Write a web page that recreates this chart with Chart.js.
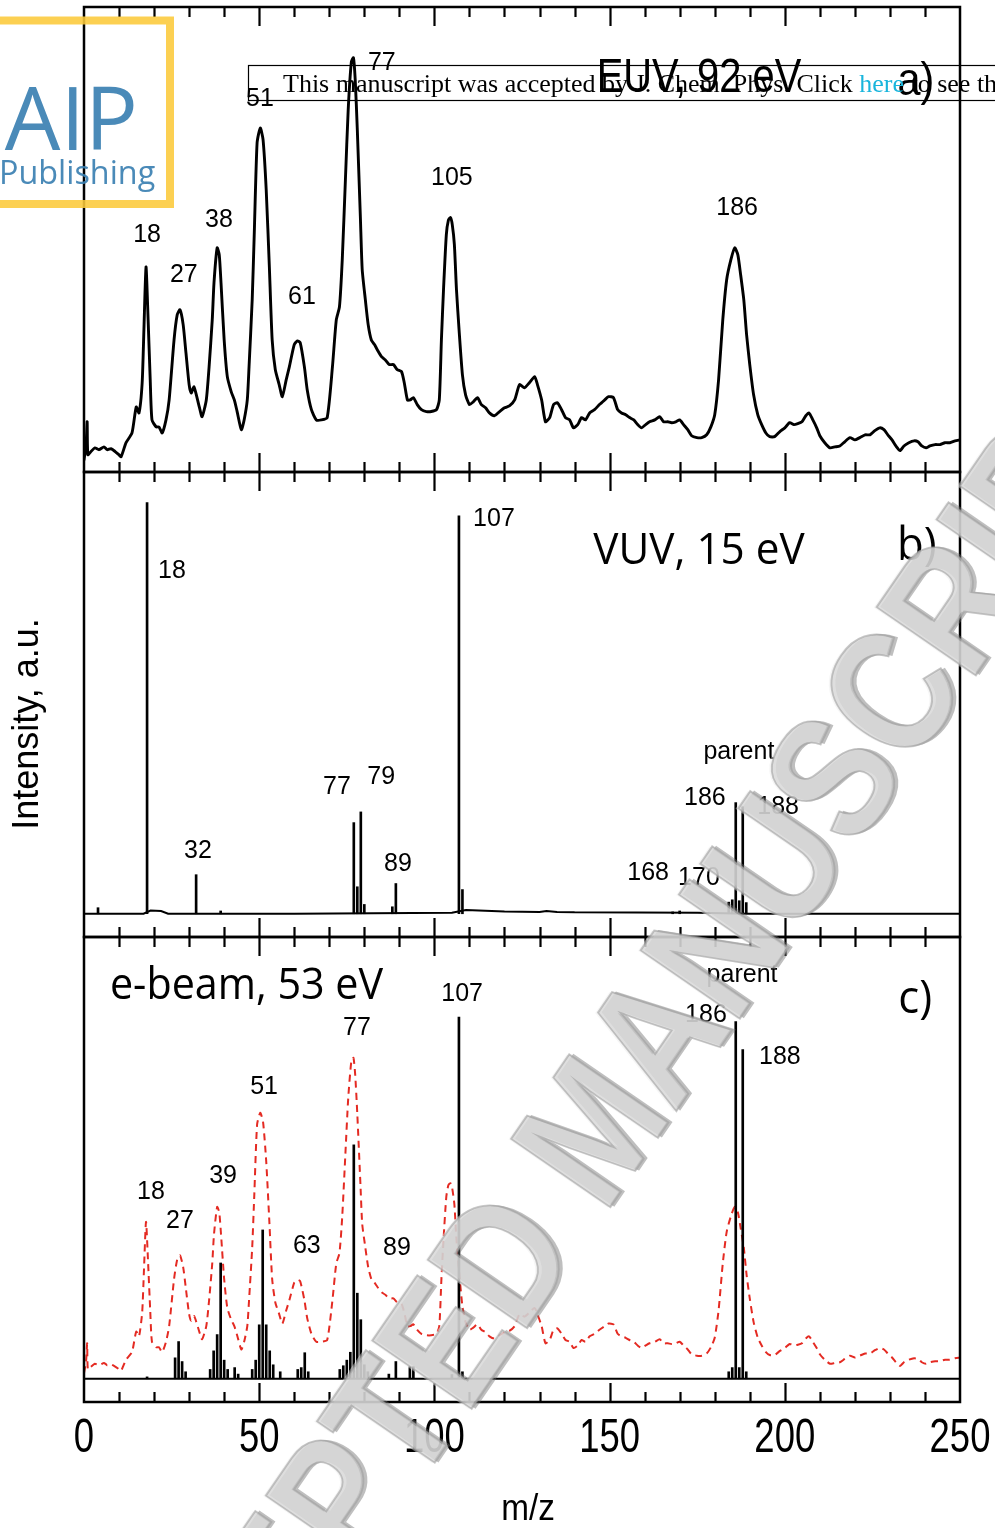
<!DOCTYPE html>
<html><head><meta charset="utf-8">
<script src="https://cdn.jsdelivr.net/npm/chart.js@4.4.1/dist/chart.umd.min.js"></script>
<style>
html,body{margin:0;padding:0;background:#fff;}
#wrap{position:relative;width:995px;height:1528px;overflow:hidden;background:#fff;}
#wrap canvas{position:absolute;left:0;top:0;}
</style></head><body>
<div id="wrap">
<canvas id="ca" width="995" height="1528"></canvas>
<canvas id="cb" width="995" height="1528"></canvas>
<canvas id="cc" width="995" height="1528"></canvas>
</div>
<script>
// ---------------- DATA ----------------
// a) EUV, 92 eV : m/z and intensity (a.u.)
const euvMz = [0,0.6,0.9,1.1,2.0,3.1,4.3,5.7,6.6,7.7,8.9,10.0,10.6,12.0,13.7,14.9,15.7,16.6,17.1,17.7,18.3,18.9,19.4,20.6,21.4,22.3,23.4,24.3,25.7,26.6,27.4,28.3,29.1,30.0,30.6,31.4,32.9,33.7,34.9,35.7,36.6,37.1,38.0,38.6,39.1,40.0,40.9,42.0,42.9,43.7,44.9,45.7,46.6,47.1,48.0,48.6,49.4,50.3,51.1,52.0,52.9,53.7,54.6,55.7,56.6,57.7,58.6,60.0,60.9,61.7,62.9,63.7,64.9,66.3,67.7,69.4,70.9,72.0,72.9,73.7,74.6,75.4,76.3,76.9,77.4,78.0,78.9,79.4,80.3,81.1,82.0,82.9,83.7,84.9,86.0,87.1,88.3,89.4,90.6,91.4,92.3,93.1,94.0,95.1,96.3,97.7,99.1,100.6,101.4,102.0,102.6,103.4,104.0,104.6,105.1,105.7,106.3,107.1,108.0,108.9,110.0,111.1,112.3,113.4,114.6,115.7,117.1,118.6,120.0,121.4,122.9,124.3,125.7,127.1,128.6,129.4,130.6,131.7,132.9,134.0,135.1,136.3,137.4,138.6,139.7,140.9,142.0,143.1,144.3,145.7,147.1,148.6,149.7,151.1,152.3,153.4,154.6,155.7,156.9,158.0,159.1,160.3,161.4,162.9,164.3,165.4,166.6,167.7,168.9,170.0,171.1,172.3,173.4,174.9,176.3,177.7,178.9,180.0,181.1,182.3,183.4,184.6,185.7,186.6,187.4,188.3,189.1,190.0,191.1,192.3,193.4,194.6,195.7,197.1,198.6,200.0,201.4,202.6,203.7,204.9,206.0,206.9,208.0,209.1,210.0,211.4,212.9,214.3,215.7,217.1,218.6,220.0,221.4,222.9,224.3,225.7,227.1,228.3,229.4,230.6,231.7,232.9,234.0,235.4,236.9,238.0,239.1,240.3,241.4,242.9,244.3,245.7,247.1,248.6,250.0];
const euvI = [-2.4,0.9,5.8,-1.3,-0.6,0.2,-0.2,0.4,-0.2,0,-0.6,-1.3,-1.7,1.3,3.4,9.0,7.7,14.2,25.6,39.1,27.7,14.8,6.2,4.7,4.7,3.4,6.2,10.5,23.4,28.8,29.9,26.7,20.6,13.8,12.0,13.3,9.0,6.9,10.5,17.6,27.7,35.7,43.2,41.7,35.7,23.4,15.5,12.3,10.5,8.0,4.1,6.2,10.5,17.6,32.0,46.5,65.8,69.0,66.5,55.7,39.1,23.4,17.0,13.8,11.2,14.8,17.6,22.4,23.2,22.8,17.6,12.7,8.4,6.2,6.2,6.7,17.6,27.7,30.5,40.6,57.8,72.9,83.2,84.1,79.4,68.6,49.2,38.5,32.0,26.7,23.4,22.4,21.3,19.8,19.1,18.1,18.1,17.0,16.6,14.2,10.5,10.5,11.0,9.5,8.4,8.0,8.0,8.4,10.5,23.4,34.2,46.0,49.2,49.7,48.2,43.9,34.2,24.9,15.9,11.6,9.5,10.1,11.0,9.5,8.8,7.7,7.1,8.0,8.8,9.2,10.5,13.8,13.1,14.2,15.5,13.8,10.5,5.8,6.7,9.5,9.9,8.4,6.7,6.2,4.5,5.2,6.7,6.2,7.7,8.4,9.5,10.5,11.2,11.0,8.4,7.7,7.3,6.7,6.2,5.2,4.5,5.2,5.8,6.2,6.9,5.8,5.8,5.6,5.8,6.2,5.2,4.1,2.8,2.4,2.4,3.0,4.7,7.3,14.8,27.7,36.3,40.6,43.2,41.7,37.4,32.0,24.5,18.1,11.6,7.3,5.2,3.4,2.6,2.6,3.7,4.5,5.6,5.2,5.4,5.8,7.1,7.7,6.2,4.5,2.8,1.3,0.2,0.4,0.6,1.5,2.4,1.9,2.4,3.0,3.0,3.9,4.5,4.1,3.0,1.9,0.6,-0.4,0.6,1.3,1.7,1.5,0.6,0.2,0.6,0.9,0.9,1.3,1.3,1.7,1.9];

// b) VUV, 15 eV : stick spectrum + baseline
const vuvMz = [4,18,32,39,77,78,79,80,88,89,107,108,168,170,184,185,186,187,188,189];
const vuvI  = [1.3,88.4,8.4,0.6,19.6,5.8,21.9,2.0,1.5,6.5,85.6,5.2,0.4,0.6,2.5,3.0,23.9,2.8,23.0,2.4];
const vuvBaseMz = [0,17,19,22,24,60,105,109,120,130,132,135,140,175,190,250];
const vuvBaseI  = [0,0,0.7,0.6,0,0,0.2,0.8,0.5,0.4,0.6,0.4,0.3,0.2,0,0];

// c) e-beam, 53 eV : stick spectrum + baseline
const ebMz = [18,26,27,28,29,36,37,38,39,40,41,43,44,48,49,50,51,52,53,54,56,61,62,63,64,73,74,75,76,77,78,79,80,81,87,89,93,94,105,107,108,184,185,186,187,188,189];
const ebI  = [0.4,4.5,8.0,3.7,1.5,2.0,6.0,9.5,24.9,4.0,2.0,2.4,1.0,2.0,4.0,11.6,32.0,11.6,6.0,3.0,1.5,2.0,2.4,5.6,1.5,2.0,2.8,4.0,5.7,50.3,18.4,12.7,3.0,1.5,1.0,3.7,2.6,2.6,0.9,77.8,1.5,1.5,2.4,76.8,2.4,70.8,1.5];
const ebBaseMz = [0,250];
const ebBaseI  = [0,0];

const xTickLabels = [0,50,100,150,200,250];
const minorTicks = [10,20,30,40,50,60,70,80,90,100,110,120,130,140,150,160,170,180,190,200,210,220,230,240];

// ---------------- HELPERS ----------------
const SANS = '"Liberation Sans", Arial, Helvetica, sans-serif';
const CAL = '"Open Sans", "Liberation Sans", sans-serif';
const pts = (xs, ys) => xs.map((x, i) => ({x: x, y: ys[i]}));

function txt(ctx, s, x, y, font, o) {
  o = o || {};
  ctx.save();
  ctx.font = font;
  ctx.fillStyle = o.color || '#000';
  ctx.textAlign = o.align || 'center';
  ctx.textBaseline = o.baseline || 'middle';
  ctx.translate(x, y);
  if (o.rot) ctx.rotate(o.rot);
  if (o.sx) ctx.scale(o.sx, 1);
  ctx.fillText(s, 0, 0);
  ctx.restore();
}

function framePlugin() {
  return {
    id: 'frame',
    afterDraw(chart) {
      const ctx = chart.ctx, a = chart.chartArea, xs = chart.scales.x;
      ctx.save();
      ctx.strokeStyle = '#000';
      ctx.lineWidth = 2.5;
      ctx.strokeRect(a.left, a.top, a.right - a.left, a.bottom - a.top);
      ctx.lineWidth = 2.2;
      minorTicks.forEach(v => {
        const px = Math.round(xs.getPixelForValue(v)) + 0.5;
        const len = (v % 50 === 0) ? 19 : 10;
        ctx.beginPath();
        ctx.moveTo(px, a.top); ctx.lineTo(px, a.top + len);
        ctx.moveTo(px, a.bottom); ctx.lineTo(px, a.bottom - len);
        ctx.stroke();
      });
      ctx.restore();
    }
  };
}

function notesPlugin(notes) {
  return {
    id: 'notes',
    afterDatasetsDraw(chart) {
      const ctx = chart.ctx;
      notes.forEach(n => {
        const ys = chart.scales[n.axis || 'y'];
        txt(ctx, n.t, chart.scales.x.getPixelForValue(n.x), ys.getPixelForValue(n.y),
            n.font || ('25px ' + SANS), {align: n.align, sx: n.sx});
      });
    }
  };
}

function mkChart(id, top, bottom, datasets, extraScales, notes, extraPlugins) {
  const scales = Object.assign({
    x: {type: 'linear', min: 0, max: 250, display: false, offset: false},
    y: {type: 'linear', min: -5, max: 95, display: false}
  }, extraScales || {});
  return new Chart(document.getElementById(id), {
    type: 'line',
    data: {datasets: datasets},
    options: {
      responsive: false, animation: false, devicePixelRatio: 1, events: [],
      layout: {padding: {left: 84, right: 35, top: top, bottom: 1528 - bottom}},
      plugins: {legend: {display: false}, tooltip: {enabled: false}},
      scales: scales
    },
    plugins: [notesPlugin(notes), framePlugin()].concat(extraPlugins || [])
  });
}

// ---------------- PANEL a ----------------
mkChart('ca', 7, 472, [
  {data: pts(euvMz, euvI), borderColor: '#000', borderWidth: 2.9, pointRadius: 0, tension: 0.2,
   borderJoinStyle: 'round', borderCapStyle: 'round', fill: false}
], null, [
  {t: '18', x: 18.0, y: 45.9}, {t: '27', x: 28.5, y: 37.4}, {t: '38', x: 38.5, y: 49.2},
  {t: '51', x: 50.2, y: 75.2}, {t: '61', x: 62.2, y: 32.7}, {t: '77', x: 85.0, y: 82.9},
  {t: '105', x: 105.0, y: 58.2}, {t: '186', x: 186.4, y: 51.8},
  {t: 'EUV, 92 eV', x: 175.5, y: 79.5, font: '48px ' + SANS, sx: 0.83},
  {t: 'a)', x: 237.4, y: 78.9, font: '46px ' + SANS, sx: 0.9}
]);

// ---------------- PANEL b ----------------
mkChart('cb', 472, 937, [
  {type: 'bar', data: pts(vuvMz, vuvI), backgroundColor: '#000', borderWidth: 0, barThickness: 2, grouped: false},
  {data: pts(vuvBaseMz, vuvBaseI), borderColor: '#000', borderWidth: 2, pointRadius: 0, tension: 0}
], null, [
  {t: '18', x: 25.1, y: 73.7}, {t: '107', x: 117.0, y: 84.9}, {t: '32', x: 32.5, y: 13.5},
  {t: '77', x: 72.2, y: 27.3}, {t: '79', x: 84.8, y: 29.4}, {t: '89', x: 89.6, y: 10.7},
  {t: 'parent', x: 186.9, y: 34.8}, {t: '186', x: 177.2, y: 24.9}, {t: '188', x: 198.1, y: 23.0},
  {t: '168', x: 161.0, y: 8.8}, {t: '170', x: 175.5, y: 7.7},
  {t: 'VUV, 15 eV', x: 175.5, y: 78.0, font: '44px ' + CAL, sx: 0.96},
  {t: 'b)', x: 237.7, y: 78.8, font: '46px ' + CAL, sx: 0.95}
]);

// ---------------- PANEL c + overlays ----------------
const overlay = {
  id: 'overlay',
  afterDraw(chart) {
    const ctx = chart.ctx, xs = chart.scales.x;
    // x tick labels
    xTickLabels.forEach(v => txt(ctx, String(v), xs.getPixelForValue(v), 1439, '48px ' + SANS, {sx: 0.76}));
    txt(ctx, 'm/z', 528, 1510, '37px ' + SANS, {sx: 0.9});
    txt(ctx, 'Intensity, a.u.', 28, 724, '36px ' + SANS, {rot: -Math.PI / 2});

    // AIP Publishing logo
    ctx.save();
    ctx.globalAlpha = 0.88;
    ctx.strokeStyle = '#fcc93a'; ctx.lineWidth = 8;
    ctx.strokeRect(-20, 20.5, 190, 183.5);
    ctx.restore();
    ctx.save();
    ctx.globalAlpha = 0.92;
    txt(ctx, 'AIP', 138, 150, '500 88px ' + CAL, {align: 'right', baseline: 'alphabetic', color: '#3b80b2', sx: 1.0});
    txt(ctx, 'Publishing', -1, 184, '33px ' + CAL, {align: 'left', baseline: 'alphabetic', color: '#3b80b2', sx: 0.98});
    ctx.restore();

    // header notice box
    ctx.save();
    ctx.strokeStyle = '#000'; ctx.lineWidth = 1.2;
    ctx.strokeRect(248.5, 65.5, 800, 35);
    ctx.font = '26px "Liberation Serif", "Times New Roman", serif';
    ctx.textBaseline = 'alphabetic'; ctx.textAlign = 'left';
    const p1 = 'This manuscript was accepted by J. Chem. Phys. Click ';
    const p2 = 'here';
    const p3 = ' to see the version of record.';
    let x = 283;
    ctx.fillStyle = '#000'; ctx.fillText(p1, x, 92); x += ctx.measureText(p1).width;
    ctx.fillStyle = '#19b5dc'; ctx.fillText(p2, x, 92); x += ctx.measureText(p2).width;
    ctx.fillStyle = '#000'; ctx.fillText(p3, x, 92);
    ctx.restore();

    // watermark
    ctx.save();
    ctx.translate(602, 1134);
    ctx.rotate(-55.5 * Math.PI / 180);
    ctx.scale(0.84, 1);
    ctx.font = 'bold 175px ' + SANS;
    ctx.textAlign = 'center'; ctx.textBaseline = 'middle';
    const w = 'ACCEPTED MANUSCRIPT';
    ctx.globalAlpha = 0.45;
    ctx.fillStyle = '#707070'; ctx.fillText(w, 3, 3);
    ctx.globalAlpha = 0.72;
    ctx.fillStyle = '#c4c4c4'; ctx.fillText(w, 0, 0);
    ctx.globalAlpha = 0.45;
    ctx.fillStyle = '#ececec'; ctx.fillText(w, -2, -2);
    ctx.globalAlpha = 0.55;
    ctx.strokeStyle = '#9a9a9a'; ctx.lineWidth = 2; ctx.strokeText(w, 0, 0);
    ctx.restore();
  }
};

mkChart('cc', 937, 1402, [
  {type: 'bar', data: pts(ebMz, ebI), backgroundColor: '#000', borderWidth: 0, barThickness: 2, grouped: false},
  {data: pts(ebBaseMz, ebBaseI), borderColor: '#000', borderWidth: 2, pointRadius: 0, tension: 0},
  {data: pts(euvMz, euvI), yAxisID: 'y2', borderColor: '#e42a22', borderWidth: 2, borderDash: [7, 5], pointRadius: 0, tension: 0.2}
], {
  y2: {type: 'linear', min: -10.3, max: 117.2, display: false}
}, [
  {t: 'e-beam, 53 eV', x: 7.4, y: 84.2, align: 'left', font: '43px ' + CAL, sx: 0.96},
  {t: '107', x: 107.9, y: 82.7}, {t: '77', x: 77.9, y: 75.4}, {t: '51', x: 51.4, y: 62.7},
  {t: '39', x: 39.7, y: 43.6}, {t: '18', x: 19.1, y: 40.2}, {t: '27', x: 27.4, y: 33.9},
  {t: '63', x: 63.6, y: 28.6}, {t: '89', x: 89.3, y: 28.1},
  {t: 'parent', x: 187.8, y: 86.8}, {t: '186', x: 177.5, y: 78.2}, {t: '188', x: 198.6, y: 69.1},
  {t: 'c)', x: 237.2, y: 81.4, font: '46px ' + CAL, sx: 0.95}
], [overlay]);
</script>
</body></html>
